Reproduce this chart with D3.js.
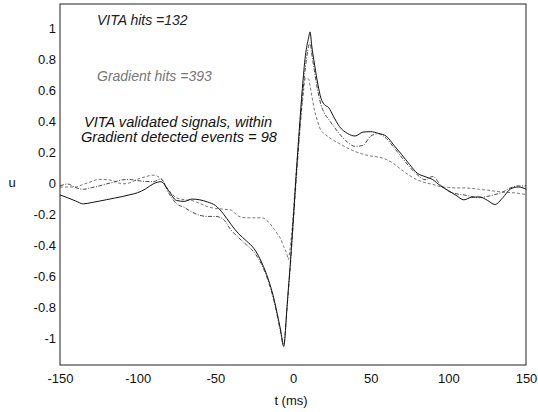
<!DOCTYPE html>
<html>
<head>
<meta charset="utf-8">
<script src="https://cdn.jsdelivr.net/npm/d3@7"></script>
<style>
  html, body { margin: 0; padding: 0; background: #fff; }
  svg { display: block; }
  text { font-family: "Liberation Sans", Arial, Helvetica, sans-serif; }
</style>
</head>
<body>
<svg id="chart" width="538" height="412"></svg>
<script>
// ---- data ----
const time = [-150,-145,-140,-135,-130,-125,-120,-115,-110,-105,-100,-95,-90,-85,-80,-75,-70,-65,-60,-55,-50,-45,-40,-35,-30,-25,-20,
  -16,-12,-10,-8,-6,-4,-3,-2,0,2,4,6,8,10,11,12,14,16,18,20,23,26,
  30,35,40,45,50,55,60,65,70,75,80,85,90,95,100,105,110,115,120,125,130,135,140,145,150];

const vitaHits = [-0.077,-0.096,-0.116,-0.135,-0.127,-0.118,-0.108,-0.098,-0.088,-0.076,-0.063,-0.039,-0.006,0.008,-0.051,-0.113,-0.119,-0.104,-0.109,-0.123,-0.145,-0.197,-0.266,-0.328,-0.374,-0.425,-0.517,
  -0.619,-0.759,-0.851,-0.949,-1.055,-0.823,-0.685,-0.556,-0.260,0.045,0.338,0.609,0.823,0.935,0.975,0.891,0.756,0.638,0.547,0.508,0.486,0.431,
  0.363,0.320,0.303,0.328,0.331,0.320,0.302,0.243,0.183,0.120,0.063,0.041,0.021,-0.019,-0.049,-0.080,-0.109,-0.092,-0.090,-0.111,-0.139,-0.096,-0.039,-0.026,-0.039];

const gradientHits = [-0.026,-0.026,-0.026,-0.009,0.008,0.023,0.022,0.011,-0.006,0.001,0.024,0.040,0.050,0.027,-0.047,-0.096,-0.108,-0.114,-0.132,-0.153,-0.164,-0.169,-0.175,-0.215,-0.225,-0.225,-0.225,
  -0.250,-0.300,-0.330,-0.360,-0.410,-0.457,-0.495,-0.435,-0.222,0.066,0.305,0.515,0.675,0.672,0.626,0.568,0.463,0.393,0.338,0.320,0.295,0.276,
  0.253,0.226,0.203,0.186,0.174,0.167,0.152,0.123,0.084,0.048,0.020,0.002,-0.009,-0.024,-0.029,-0.032,-0.032,-0.035,-0.041,-0.046,-0.053,-0.059,-0.062,-0.067,-0.075];

const validated = [-0.019,-0.007,-0.030,-0.041,-0.031,-0.020,-0.006,0.006,0.020,0.022,0.015,0.010,0.008,0.026,-0.065,-0.134,-0.158,-0.188,-0.209,-0.216,-0.216,-0.233,-0.302,-0.354,-0.399,-0.448,-0.530,
  -0.632,-0.772,-0.864,-0.961,-1.042,-0.830,-0.701,-0.575,-0.286,0.009,0.284,0.547,0.747,0.881,0.905,0.839,0.709,0.592,0.505,0.454,0.410,0.368,
  0.316,0.264,0.236,0.242,0.302,0.318,0.288,0.228,0.165,0.104,0.053,0.021,0.042,-0.013,-0.053,-0.070,-0.077,-0.088,-0.095,-0.087,-0.075,-0.059,-0.032,-0.019,-0.019];

const xTicks = [-150,-100,-50,0,50,100,150];
const yTicks = [-1,-0.8,-0.6,-0.4,-0.2,0,0.2,0.4,0.6,0.8,1];
const annotations = ["VITA hits =132", "Gradient hits =393", "VITA validated signals, within", "Gradient detected events = 98"];
const xLabel = "t (ms)";
const yLabel = "u";

// ---- layout ----
const svg = d3.select("#chart");
const mLeft = 60, mRight = 526, mTop = 4, mBottom = 365;

const x = d3.scaleLinear().domain([-150, 150]).range([mLeft, mRight]);
const y = d3.scaleLinear().domain([-1.175, 1.155]).range([mBottom, mTop]);

const fmt = d => String(+d.toFixed(1));

// axes
const gx = svg.append("g").attr("transform", `translate(0,${mBottom})`)
  .call(d3.axisBottom(x).tickValues(xTicks).tickSize(0).tickPadding(9).tickFormat(fmt));
gx.select(".domain").remove();
gx.selectAll("text").attr("font-size", 13).attr("fill", "#111")
  .attr("font-family", '"Liberation Sans", Arial, sans-serif');

const gy = svg.append("g").attr("transform", `translate(${mLeft},0)`)
  .call(d3.axisLeft(y).tickValues(yTicks).tickSize(0).tickPadding(4).tickFormat(fmt));
gy.select(".domain").remove();
gy.selectAll("text").attr("font-size", 13).attr("fill", "#111")
  .attr("font-family", '"Liberation Sans", Arial, sans-serif');

// frame
svg.append("rect")
  .attr("x", mLeft).attr("y", mTop)
  .attr("width", mRight - mLeft).attr("height", mBottom - mTop)
  .attr("fill", "none").attr("stroke", "#222").attr("stroke-width", 1);

// lines
const series = [
  { values: gradientHits, stroke: "#666", dash: "3,2", width: 0.9 },
  { values: validated, stroke: "#333", dash: "4,1.5,1,1.5", width: 0.9 },
  { values: vitaHits, stroke: "#111", dash: null, width: 1 }
];
const line = d3.line().x((d, i) => x(time[i])).y(d => y(d)).curve(d3.curveMonotoneX);
series.forEach(s => {
  svg.append("path")
    .attr("d", line(s.values))
    .attr("fill", "none")
    .attr("stroke", s.stroke)
    .attr("stroke-width", s.width)
    .attr("stroke-dasharray", s.dash);
});

// annotations
const ann = [
  { text: annotations[0], x: 97, y: 25, fill: "#222", size: 14 },
  { text: annotations[1], x: 97, y: 81, fill: "#777", size: 14 },
  { text: annotations[2], x: 84, y: 127, fill: "#111", size: 14.6 },
  { text: annotations[3], x: 81, y: 142, fill: "#111", size: 14.6 }
];
svg.selectAll("text.ann").data(ann).enter().append("text")
  .attr("class", "ann")
  .attr("x", d => d.x).attr("y", d => d.y)
  .attr("font-size", d => d.size).attr("font-style", "italic")
  .attr("fill", d => d.fill)
  .text(d => d.text);

// axis labels
svg.append("text").attr("x", 291).attr("y", 405).attr("text-anchor", "middle")
  .attr("font-size", 13).attr("fill", "#111").text(xLabel);
svg.append("text").attr("x", 12).attr("y", 187).attr("text-anchor", "middle")
  .attr("font-size", 13).attr("fill", "#111").text(yLabel);
</script>
</body>
</html>
